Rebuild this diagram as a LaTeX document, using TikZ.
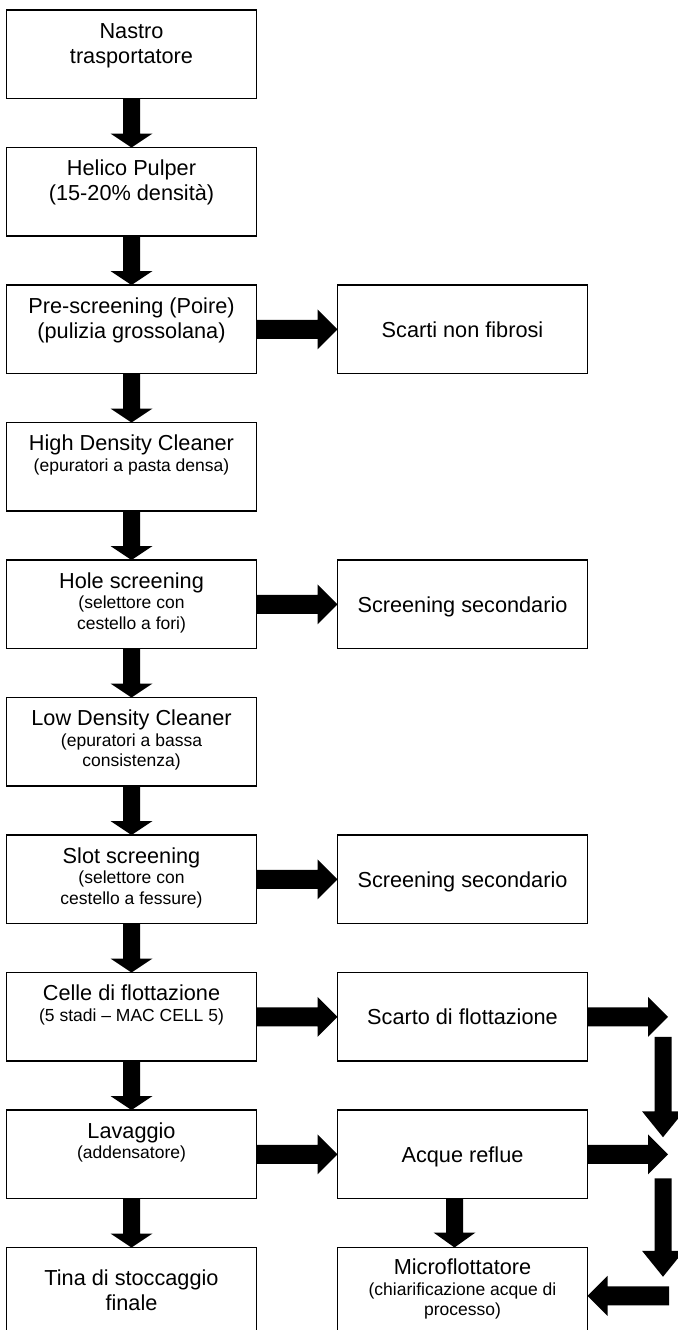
\documentclass[tikz,border=0pt]{standalone}
\usepackage{fontspec}
\setmainfont{Liberation Sans}
\usetikzlibrary{calc}
\newcommand\mf{\fontsize{10.85pt}{12.5pt}\selectfont}
\newcommand\smf{\fontsize{8.75pt}{10.25pt}\selectfont}
% down arrow: #1 start, #2 tip, #3 head length
\newcommand\DArrow[3]{\fill ($(#1)+(-8.5,0)$) -- ($(#2)+(-8.5,-#3)$) -- ($(#2)+(-21,-#3)$) -- (#2) -- ($(#2)+(21,-#3)$) -- ($(#2)+(8.5,-#3)$) -- ($(#1)+(8.5,0)$) -- cycle;}
% right arrow: #1 start, #2 tip
\newcommand\RArrow[2]{\fill ($(#1)+(0,-9.5)$) -- ($(#2)+(-20,-9.5)$) -- ($(#2)+(-20,-20)$) -- (#2) -- ($(#2)+(-20,20)$) -- ($(#2)+(-20,9.5)$) -- ($(#1)+(0,9.5)$) -- cycle;}
% left arrow: #1 start, #2 tip
\newcommand\LArrow[2]{\fill ($(#1)+(0,-9.5)$) -- ($(#2)+(20,-9.5)$) -- ($(#2)+(20,-20)$) -- (#2) -- ($(#2)+(20,20)$) -- ($(#2)+(20,9.5)$) -- ($(#1)+(0,9.5)$) -- cycle;}
\begin{document}
\begin{tikzpicture}[x=0.5pt,y=-0.5pt,
  box/.style={draw,line width=0.7pt,minimum width=125pt,minimum height=44.25pt,inner sep=0pt,outer sep=0pt},
  txt/.style={inner sep=0pt,outer sep=0pt,anchor=base}]
\useasboundingbox[fill=white] (0,0) rectangle (677,1330);
% boxes
\node[box] (L1) at (131.5,54.25) {};
\node[box] (L2) at (131.5,191.75) {};
\node[box] (L3) at (131.5,329.25) {};
\node[box] (L4) at (131.5,466.75) {};
\node[box] (L5) at (131.5,604.25) {};
\node[box] (L6) at (131.5,741.75) {};
\node[box] (L7) at (131.5,879.25) {};
\node[box] (L8) at (131.5,1016.75) {};
\node[box] (L9) at (131.5,1154.25) {};
\node[box] (L10) at (131.5,1291.75) {};
\node[box] (R3) at (462.5,329.25) {};
\node[box] (R5) at (462.5,604.25) {};
\node[box] (R7) at (462.5,879.25) {};
\node[box] (R8) at (462.5,1016.75) {};
\node[box] (R9) at (462.5,1154.25) {};
\node[box] (R10) at (462.5,1291.75) {};
% texts
\node[txt] (L1t) at ($(L1.north)+(0,28)$) {\parbox[t]{125pt}{\centering\mf Nastro\par trasportatore\par}};
\node[txt] (L2t) at ($(L2.north)+(0,28)$) {\parbox[t]{125pt}{\centering\mf Helico Pulper\par (15-20\% densità)\par}};
\node[txt] (L3t) at ($(L3.north)+(0,28)$) {\parbox[t]{125pt}{\centering\mf Pre-screening (Poire)\par (pulizia grossolana)\par}};
\node[txt] (L4t) at ($(L4.north)+(0,28)$) {\parbox[t]{125pt}{\centering\mf High Density Cleaner\par\smf (epuratori a pasta densa)\par}};
\node[txt] (L5t) at ($(L5.north)+(0,28)$) {\parbox[t]{125pt}{\centering\mf Hole screening\par\smf (selettore con\par cestello a fori)\par}};
\node[txt] (L6t) at ($(L6.north)+(0,28)$) {\parbox[t]{125pt}{\centering\mf Low Density Cleaner\par\smf (epuratori a bassa\par consistenza)\par}};
\node[txt] (L7t) at ($(L7.north)+(0,28)$) {\parbox[t]{125pt}{\centering\mf Slot screening\par\smf (selettore con\par cestello a fessure)\par}};
\node[txt] (L8t) at ($(L8.north)+(0,28)$) {\parbox[t]{125pt}{\centering\mf Celle di flottazione\par\smf (5 stadi – MAC CELL 5)\par}};
\node[txt] (L9t) at ($(L9.north)+(0,28)$) {\parbox[t]{125pt}{\centering\mf Lavaggio\par\smf (addensatore)\par}};
\node[txt] (L10t) at ($(L10.north)+(0,38)$) {\parbox[t]{125pt}{\centering\mf Tina di stoccaggio\par finale\par}};
\node[txt] (R3t) at ($(R3.north)+(0,52)$) {\mf Scarti non fibrosi};
\node[txt] (R5t) at ($(R5.north)+(0,52)$) {\mf Screening secondario};
\node[txt] (R7t) at ($(R7.north)+(0,52)$) {\mf Screening secondario};
\node[txt] (R8t) at ($(R8.north)+(0,52)$) {\mf Scarto di flottazione};
\node[txt] (R9t) at ($(R9.north)+(0,52)$) {\mf Acque reflue};
\node[txt] (R10t) at ($(R10.north)+(0,27)$) {\parbox[t]{125pt}{\centering\mf Microflottatore\par\smf (chiarificazione acque di\par processo)\par}};
% left column arrows
\DArrow{L1.south}{L2.north}{14}
\DArrow{L2.south}{L3.north}{14}
\DArrow{L3.south}{L4.north}{14}
\DArrow{L4.south}{L5.north}{14}
\DArrow{L5.south}{L6.north}{14}
\DArrow{L6.south}{L7.north}{14}
\DArrow{L7.south}{L8.north}{14}
\DArrow{L8.south}{L9.north}{14}
\DArrow{L9.south}{L10.north}{14}
% horizontal arrows
\RArrow{L3.east}{R3.west}
\RArrow{L5.east}{R5.west}
\RArrow{L7.east}{R7.west}
\RArrow{L8.east}{R8.west}
\RArrow{L9.east}{R9.west}
% acque reflue -> microflottatore
\coordinate (a9) at ($(R9.south)+(-8,0)$);
\coordinate (a10) at ($(R10.north)+(-8,0)$);
\DArrow{a9}{a10}{15}
% right side return path
\coordinate (e8) at ($(R8.east)+(80.5,0)$);
\coordinate (e9) at ($(R9.east)+(80.5,0)$);
\RArrow{R8.east}{e8}
\RArrow{R9.east}{e9}
\coordinate (d1a) at ($(R8.east)+(75.5,20)$);
\coordinate (d1b) at ($(R9.east)+(75.5,-17)$);
\coordinate (d2a) at ($(R9.east)+(75.5,24)$);
\coordinate (d2b) at ($(R10.east)+(75.5,-15)$);
\DArrow{d1a}{d1b}{26}
\DArrow{d2a}{d2b}{26}
\coordinate (m) at ($(R10.east)+(0,4)$);
\coordinate (ms) at ($(R10.east)+(81.5,4)$);
\LArrow{ms}{m}
\end{tikzpicture}
\end{document}
